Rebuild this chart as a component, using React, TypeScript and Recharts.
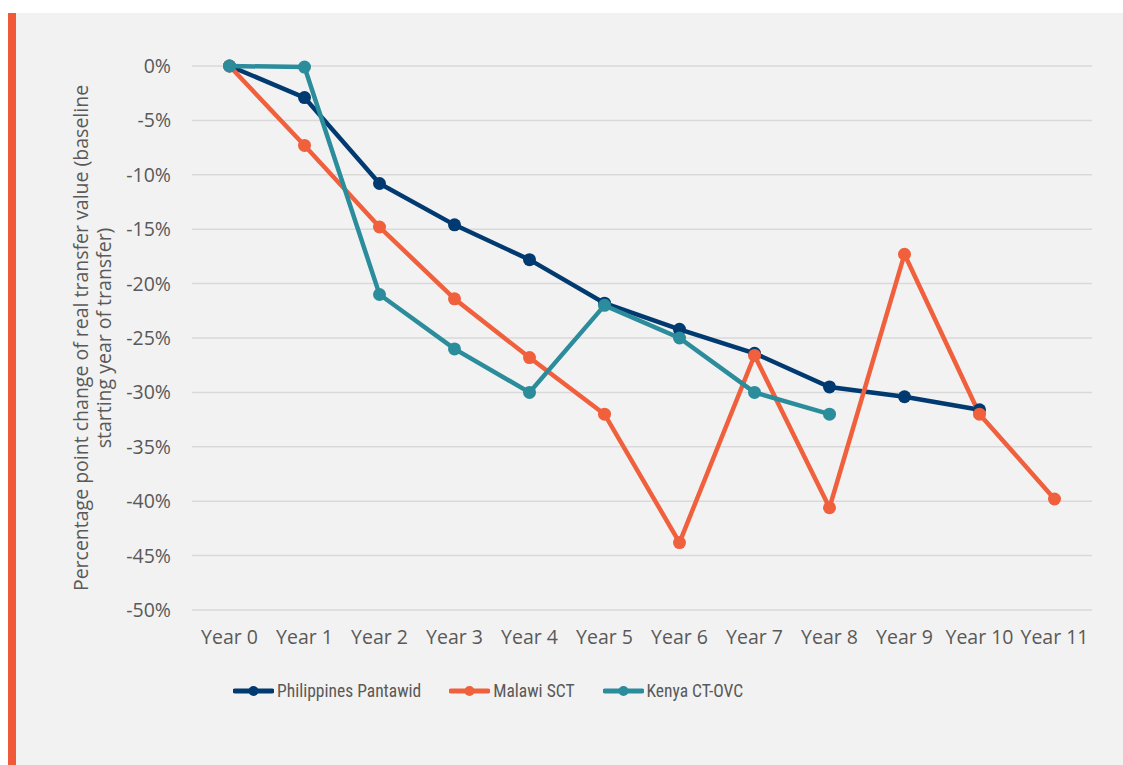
import React from "react";
import {
  LineChart,
  Line,
  XAxis,
  YAxis,
  CartesianGrid,
} from "recharts";

// drop the default body margin so the panel can fill the whole page
document.body.style.margin = "0";

// Data (percentage point change vs. baseline year)
const years = [
  "Year 0", "Year 1", "Year 2", "Year 3", "Year 4", "Year 5",
  "Year 6", "Year 7", "Year 8", "Year 9", "Year 10", "Year 11",
];
const philippines = [0, -2.9, -10.8, -14.6, -17.8, -21.8, -24.2, -26.4, -29.5, -30.4, -31.6, null];
const malawi = [0, -7.3, -14.8, -21.4, -26.8, -32.0, -43.8, -26.6, -40.6, -17.3, -32.0, -39.8];
const kenya = [0, -0.1, -21.0, -26.0, -30.0, -22.0, -25.0, -30.0, -32.0, null, null, null];
const yTicks = [0, -5, -10, -15, -20, -25, -30, -35, -40, -45, -50];
const boundaryTicks = [0, 1, 2, 3, 4, 5, 6, 7, 8, 9, 10, 11, 12];

const series = [
  { key: "philippines", name: "Philippines Pantawid", color: "#003A70" },
  { key: "malawi", name: "Malawi SCT", color: "#F0603C" },
  { key: "kenya", name: "Kenya CT-OVC", color: "#2B8C9B" },
];

const data = years.map((year, i) => ({
  year,
  philippines: philippines[i],
  malawi: malawi[i],
  kenya: kenya[i],
}));

const TEXT = "#595959";
const GRID = "#D9D9D9";
const FONT = "'Open Sans', 'DejaVu Sans', sans-serif";
const FS = 19.5;

function YTitle() {
  // two-line rotated axis title, centred on the plot area
  const cy = 325;
  return (
    <g fill={TEXT} fontSize={FS} fontFamily={FONT}>
      <text x={64} y={cy} textAnchor="middle" dominantBaseline="central" transform={`rotate(-90, 64, ${cy})`}>
        Percentage point change of real transfer value (baseline
      </text>
      <text x={87} y={cy} textAnchor="middle" dominantBaseline="central" transform={`rotate(-90, 87, ${cy})`}>
        starting year of transfer)
      </text>
    </g>
  );
}

function LegendRow() {
  return (
    <div
      style={{
        position: "absolute",
        left: 217,
        top: 668,
        display: "flex",
        gap: 28,
        alignItems: "center",
        fontFamily: "'Liberation Sans Narrow', 'Roboto Condensed', Roboto, sans-serif",
        fontSize: 17.5,
        color: TEXT,
      }}
    >
      {series.map((s) => (
        <div key={s.key} style={{ display: "flex", alignItems: "center", gap: 3 }}>
          <svg width={41} height={14}>
            <line x1={2} y1={7} x2={39} y2={7} stroke={s.color} strokeWidth={5} strokeLinecap="round" />
            <circle cx={20.5} cy={7} r={5} fill={s.color} />
          </svg>
          <span>{s.name}</span>
        </div>
      ))}
    </div>
  );
}

export default function App() {
  return (
    <div style={{ position: "relative", width: 1123, height: 765, background: "#fff", fontFamily: FONT }}>
      {/* orange accent bar */}
      <div style={{ position: "absolute", left: 8, top: 13, width: 8, height: 752, background: "#F05A38" }} />
      <div style={{ position: "absolute", left: 16, top: 13, width: 1107, height: 752, background: "#F2F2F2" }}>
        <LineChart
          width={1107}
          height={752}
          data={data}
          margin={{ top: 53, right: 31, bottom: 115, left: 96 }}
        >
          <CartesianGrid vertical={false} stroke={GRID} strokeWidth={1.5} />
          <XAxis
            dataKey="year"
            axisLine={false}
            tickLine={false}
            tickMargin={14}
            height={40}
            interval={0}
            padding={{ left: 37.5, right: 37.5 }}
            tick={{ fill: TEXT, fontSize: FS }}
          />
          {/* Excel-style tick marks between categories along the 0% line */}
          <XAxis
            xAxisId="bounds"
            orientation="top"
            type="number"
            domain={[0, 12]}
            ticks={boundaryTicks}
            height={0}
            tick={() => <g />}
            tickSize={6}
            stroke={GRID}
            axisLine={{ stroke: GRID, strokeWidth: 1.5 }}
            tickLine={{ stroke: GRID, strokeWidth: 1.5 }}
          />
          <YAxis
            domain={[-50, 0]}
            ticks={yTicks}
            width={80}
            axisLine={false}
            tickLine={false}
            tickMargin={15}
            tickFormatter={(v) => `${v}%`}
            tick={{ fill: TEXT, fontSize: FS }}
          />
          {series.map((s) => (
            <Line
              key={s.key}
              type="linear"
              dataKey={s.key}
              name={s.name}
              stroke={s.color}
              strokeWidth={4.5}
              dot={{ r: 6.5, fill: s.color, stroke: "none" }}
              connectNulls={false}
              isAnimationActive={false}
            />
          ))}
          <YTitle />
        </LineChart>
        <LegendRow />
      </div>
    </div>
  );
}
